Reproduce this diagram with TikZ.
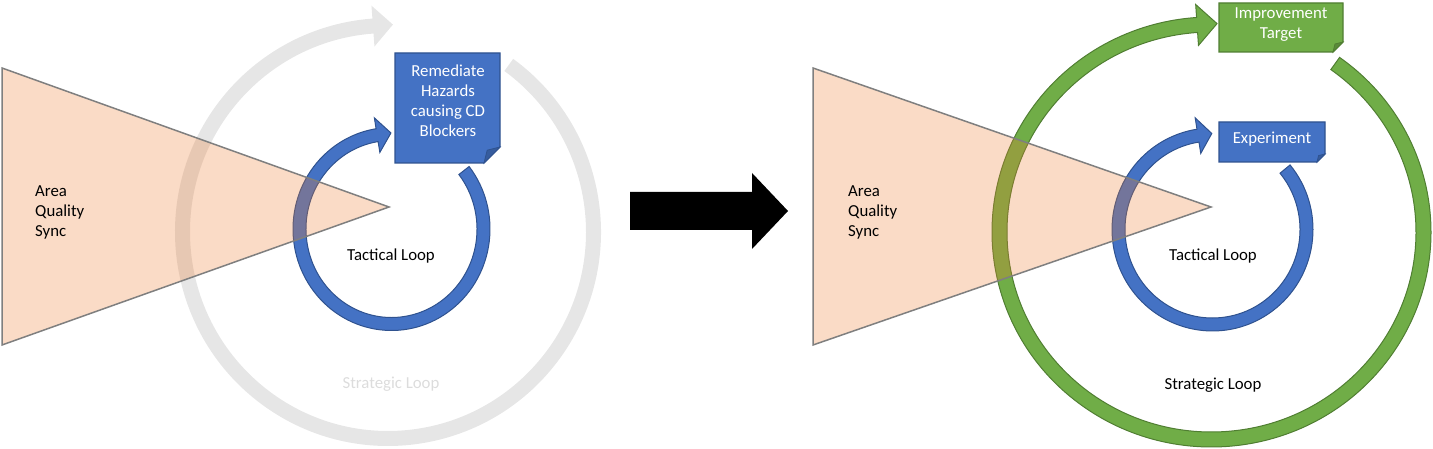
\documentclass[tikz,border=0pt]{standalone}
\usepackage{fontspec}
\setmainfont{Carlito}
\usetikzlibrary{calc}
\definecolor{oblue}{HTML}{4472C4}
\definecolor{oblueline}{HTML}{2F528F}
\definecolor{obluefold}{HTML}{365C9E}
\definecolor{ogreen}{HTML}{70AD47}
\definecolor{ogreenline}{HTML}{507E32}
\definecolor{ogreenfold}{HTML}{5A8A39}
\definecolor{ogray}{HTML}{E6E6E6}
\definecolor{ograytext}{HTML}{DCDCDC}
\definecolor{oorange}{HTML}{ED7D31}
\definecolor{triedge}{HTML}{7F7F7F}

% #1 style, #2 centre, #3 rx, #4 ry, #5 half width, #6 start angle, #7 end angle, #8 head half width, #9 head length
\newcommand{\myLoopArrow}[9]{%
  \pgfmathsetmacro\lrxo{#3+#5}\pgfmathsetmacro\lryo{#4+#5}%
  \pgfmathsetmacro\lrxi{#3-#5}\pgfmathsetmacro\lryi{#4-#5}%
  \pgfmathsetmacro\lrxh{#3+#8}\pgfmathsetmacro\lryh{#4+#8}%
  \pgfmathsetmacro\lrxk{#3-#8}\pgfmathsetmacro\lryk{#4-#8}%
  \pgfmathsetmacro\ldir{#7-90}%
  \path[#1] ($(#2)+(#6:{\lrxo} and {\lryo})$)
    arc[start angle=#6, end angle=#7, x radius=\lrxo, y radius=\lryo]
    -- ($(#2)+(#7:{\lrxh} and {\lryh})$)
    -- ($(#2)+(#7:{#3} and {#4})+(\ldir:#9)$)
    -- ($(#2)+(#7:{\lrxk} and {\lryk})$)
    -- ($(#2)+(#7:{\lrxi} and {\lryi})$)
    arc[start angle=#7, end angle=#6, x radius=\lrxi, y radius=\lryi]
    -- cycle;}

% #1 style, #2 fold style, #3 left, #4 bottom, #5 right, #6 top, #7 fold size
\newcommand{\myNoteBox}[7]{%
  \path[#1] (#3,#6) -- (#5,#6) -- (#5,{#4+#7}) -- ({#5-#7},#4) -- (#3,#4) -- cycle;
  \path[#2] ({#5-#7},#4) -- (#5,{#4+#7}) -- ({#5-0.8*#7},{#4+0.8*#7}) -- cycle;}

\begin{document}
\begin{tikzpicture}[x=1pt,y=1pt,
  txt/.style={font=\fontsize{16.8}{20}\selectfont, inner sep=0pt, align=center},
  tri/.style={fill=oorange, fill opacity=0.28, draw=triedge, draw opacity=1, line width=1.5pt, line join=miter},
  bluearrow/.style={fill=oblue, draw=oblueline, line width=1pt},
  greenarrow/.style={fill=ogreen, draw=ogreenline, line width=1pt},
  grayarrow/.style={fill=ogray},
  bluenote/.style={fill=oblue, draw=oblueline, line width=1.2pt, line join=miter},
  bluefold/.style={fill=obluefold, draw=oblueline, line width=0.8pt},
  greennote/.style={fill=ogreen, draw=ogreenline, line width=1.2pt, line join=miter},
  greenfold/.style={fill=ogreenfold, draw=ogreenline, line width=0.8pt}]
\useasboundingbox (0,0) rectangle (1433,449);

\coordinate (gc) at (388,217);
\coordinate (lbc) at (391.5,220);
\coordinate (rbc) at (1212.5,219.5);
\coordinate (grc) at (1211.5,217);

% ---------- left diagram ----------
\myLoopArrow{grayarrow}{gc}{205.5}{206.5}{7.5}{54}{-265.8}{20.5}{20}
\myLoopArrow{bluearrow}{lbc}{92}{95}{6.5}{38}{-261}{17.5}{14}
\myNoteBox{bluenote}{bluefold}{395}{286}{500}{396}{16}

\path[tri] (2,381) -- (389,242) -- (2,104) -- cycle;

\node[txt, text=white] (rem) at (448,348.5) {Remediate\\Hazards\\causing CD\\Blockers};
\node[txt, align=left, anchor=west] (aqs1) at (35,236.5) {Area\\Quality\\Sync};
\node[txt] (tl1) at (391,192.5) {Tactical Loop};
\node[txt, text=ograytext] (sl1) at (391,64.5) {Strategic Loop};

% ---------- big arrow ----------
\fill[black] (630,257) -- (752,257) -- (752,276) -- (788,238) -- (752,200) -- (752,219) -- (630,219) -- cycle;

% ---------- right diagram ----------
\myLoopArrow{greenarrow}{grc}{212}{207.5}{7.5}{54.3}{-266.1}{20.5}{20}
\myLoopArrow{bluearrow}{rbc}{94}{95}{6.5}{39.5}{-261.1}{18}{14}
\myNoteBox{greennote}{greenfold}{1219}{397}{1343}{446}{10}
\myNoteBox{bluenote}{bluefold}{1219}{287}{1325}{327}{8}

\path[tri] (813,381) -- (1211,242) -- (813,104) -- cycle;

\node[txt, text=white] (imp) at (1281,424) {Improvement\\Target};
\node[txt, text=white] (exper) at (1272,309.5) {Experiment};
\node[txt, align=left, anchor=west] (aqs2) at (848,236.5) {Area\\Quality\\Sync};
\node[txt] (tl2) at (1213,192.5) {Tactical Loop};
\node[txt] (sl2) at (1213,63.5) {Strategic Loop};
\end{tikzpicture}
\end{document}
